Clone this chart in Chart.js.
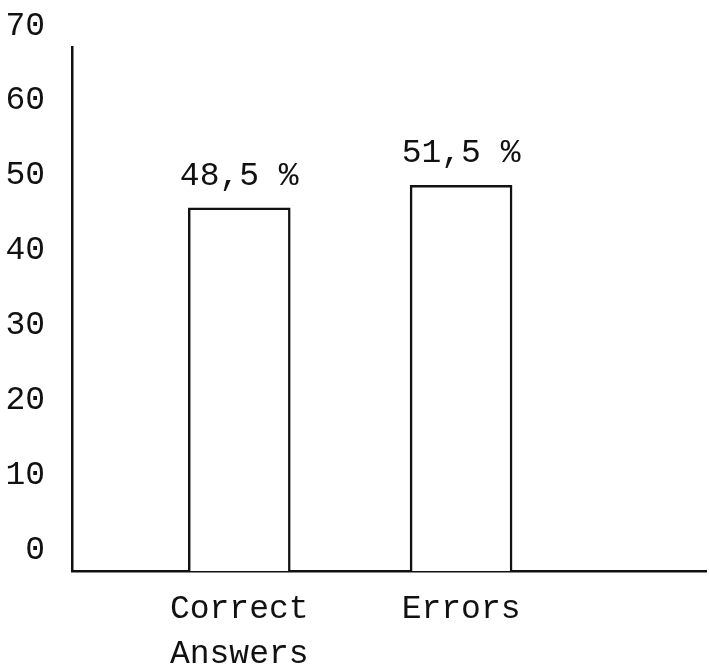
<!DOCTYPE html>
<html><head><meta charset="utf-8">
<script src="https://cdn.jsdelivr.net/npm/chart.js@4"></script>
<style>html,body{margin:0;padding:0;background:#fff}#wrap{width:709px;height:668px;position:relative}</style>
</head><body><div id="wrap"><canvas id="c"></canvas></div>
<script>
const categories = [['Correct', 'Answers'], ['Errors']];
const values = [48.5, 51.5];
const valueLabels = ['48,5 %', '51,5 %'];
const yTicks = [0, 10, 20, 30, 40, 50, 60, 70];

const FONT = '"Liberation Mono", "DejaVu Sans Mono", monospace';
const INK = '#111';

const labelPlugin = {
  id: 'valueLabels',
  afterDatasetsDraw(chart) {
    const ctx = chart.ctx;
    const meta = chart.getDatasetMeta(0);
    ctx.save();
    ctx.font = '33px ' + FONT;
    ctx.fillStyle = INK;
    ctx.textAlign = 'center';
    ctx.textBaseline = 'middle';
    meta.data.forEach((bar, i) => {
      ctx.fillText(valueLabels[i], bar.x, bar.y - 32);
    });
    ctx.restore();
  }
};

new Chart(document.getElementById('c'), {
  type: 'bar',
  data: {
    datasets: [{
      data: values.map((v, i) => ({ x: i, y: v })),
      backgroundColor: '#fff',
      borderColor: INK,
      borderWidth: 2.5,
      borderSkipped: 'bottom',
      barThickness: 102
    }]
  },
  options: {
    responsive: true,
    maintainAspectRatio: false,
    animation: false,
    layout: { padding: { top: 40, right: 3, left: 0, bottom: 0 } },
    plugins: { legend: { display: false }, tooltip: { enabled: false } },
    scales: {
      x: {
        type: 'linear',
        offset: false,
        min: -0.754,
        max: 2.104,
        grid: { display: false, drawTicks: false, offset: false },
        border: { display: true, color: INK, width: 2.5 },
        afterBuildTicks: s => { s.ticks = categories.map((_, i) => ({ value: i })); },
        afterFit: s => { s.height = 97; },
        ticks: {
          color: INK,
          font: { family: FONT, size: 33, lineHeight: 1.36 },
          padding: 16,
          maxRotation: 0,
          autoSkip: false,
          callback: v => categories[v] ?? ''
        }
      },
      y: {
        min: 0,
        max: 70,
        grid: { display: false, drawTicks: false },
        border: { display: true, color: INK, width: 2.5 },
        afterBuildTicks: s => { s.ticks = yTicks.map(v => ({ value: v })); },
        afterFit: s => { s.width = 72; },
        ticks: {
          color: INK,
          font: { family: FONT, size: 33 },
          padding: 27,
          labelOffset: -21
        }
      }
    }
  },
  plugins: [labelPlugin]
});
</script></body></html>
